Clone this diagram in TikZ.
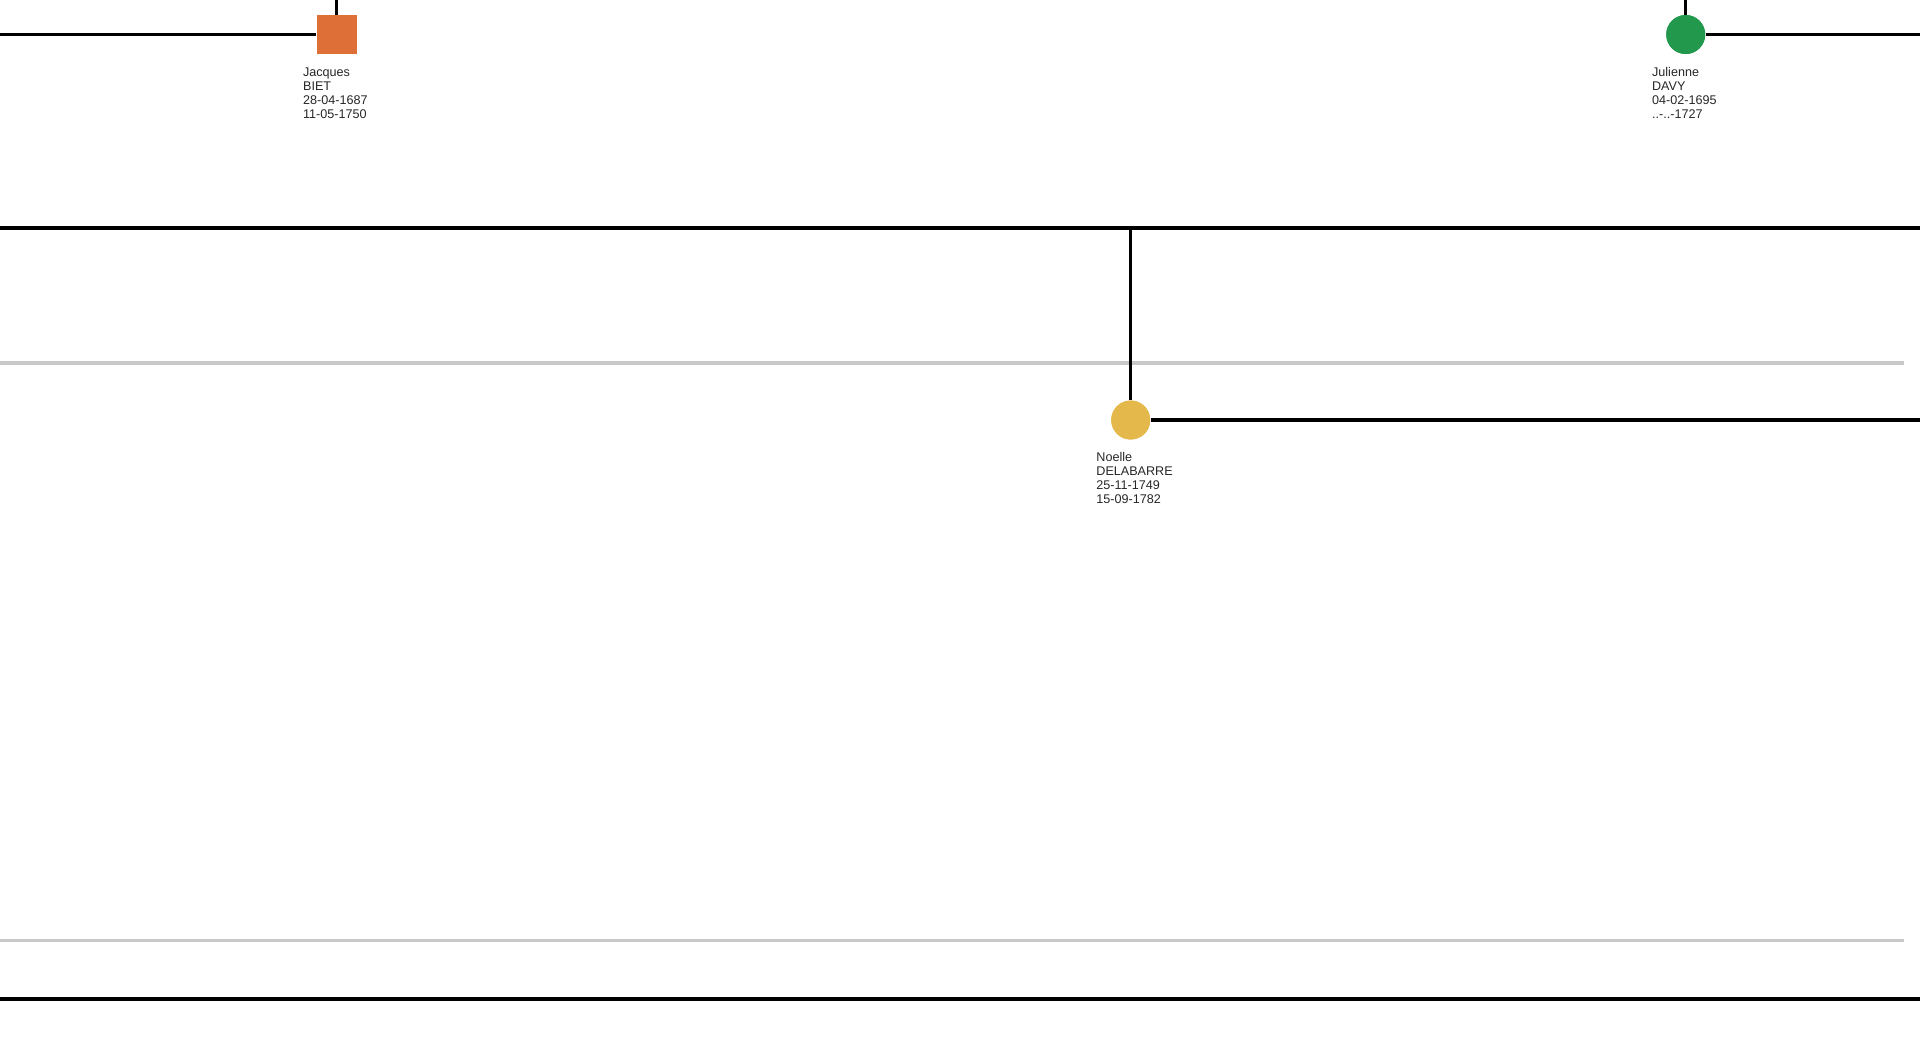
\documentclass[tikz,border=0pt]{standalone}
\usepackage{fontspec}
\setmainfont{Liberation Sans}
\definecolor{maleorange}{RGB}{222,111,55}
\definecolor{femgreen}{RGB}{33,152,76}
\definecolor{femyellow}{RGB}{228,184,74}
\definecolor{gengray}{RGB}{200,200,200}
\tikzset{
  link/.style={draw=black,line width=1.75pt},
  genline/.style={draw=gengray,line width=1.75pt},
  malebox/.style={rectangle,fill=maleorange,inner sep=0pt,minimum width=20pt,minimum height=19.5pt},
  fembox/.style={circle,inner sep=0pt,minimum size=19.5pt},
  label/.style={anchor=base west,align=left,inner sep=0pt,font=\fontsize{6.3}{7}\selectfont,text=black!85}
}
\begin{document}
\begin{tikzpicture}[x=0.5pt,y=-0.5pt]
\useasboundingbox (0,0) rectangle (1920,1057);
% people
\node[malebox] (jacques) at (336.7,34.5) {};
\node[fembox,fill=femgreen] (julienne) at (1685.7,34.5) {};
\node[fembox,fill=femyellow] (noelle) at (1130.7,420) {};
% free ends
\coordinate (jtop) at (336.7,0);
\coordinate (jleft) at (0,34.5);
\coordinate (utop) at (1685.7,0);
\coordinate (uright) at (1920,34.5);
\coordinate (fam) at (1130.7,228);
\coordinate (famL) at (0,228);
\coordinate (famR) at (1920,228);
\coordinate (nright) at (1920,420);
\coordinate (g1L) at (0,362.8);
\coordinate (g1R) at (1904,362.8);
\coordinate (g2L) at (0,940.5);
\coordinate (g2R) at (1904,940.5);
\coordinate (bL) at (0,999);
\coordinate (bR) at (1920,999);
% generation separators
\draw[genline] (g1L) -- (g1R);
\draw[genline] (g2L) -- (g2R);
% connectors
\draw[link] (jtop) -- (jacques.north);
\draw[link] (jleft) -- (jacques.west);
\draw[link] (utop) -- (julienne.north);
\draw[link] (julienne.east) -- (uright);
\draw[link] (famL) -- (famR);
\draw[link] (fam) -- (noelle.north);
\draw[link] (noelle.east) -- (nright);
\draw[link] (bL) -- (bR);
% redraw nodes on top
\node[malebox] at (jacques) {};
\node[fembox,fill=femgreen] at (julienne) {};
\node[fembox,fill=femyellow] at (noelle) {};
% labels (base = last line)
\node[label] (jacqueslbl) at (302.7,118) {Jacques\\BIET\\28-04-1687\\11-05-1750};
\node[label] (juliennelbl) at (1651.7,118) {Julienne\\DAVY\\04-02-1695\\..-..-1727};
\node[label] (noellelbl) at (1096,503) {Noelle\\DELABARRE\\25-11-1749\\15-09-1782};
\end{tikzpicture}
\end{document}
